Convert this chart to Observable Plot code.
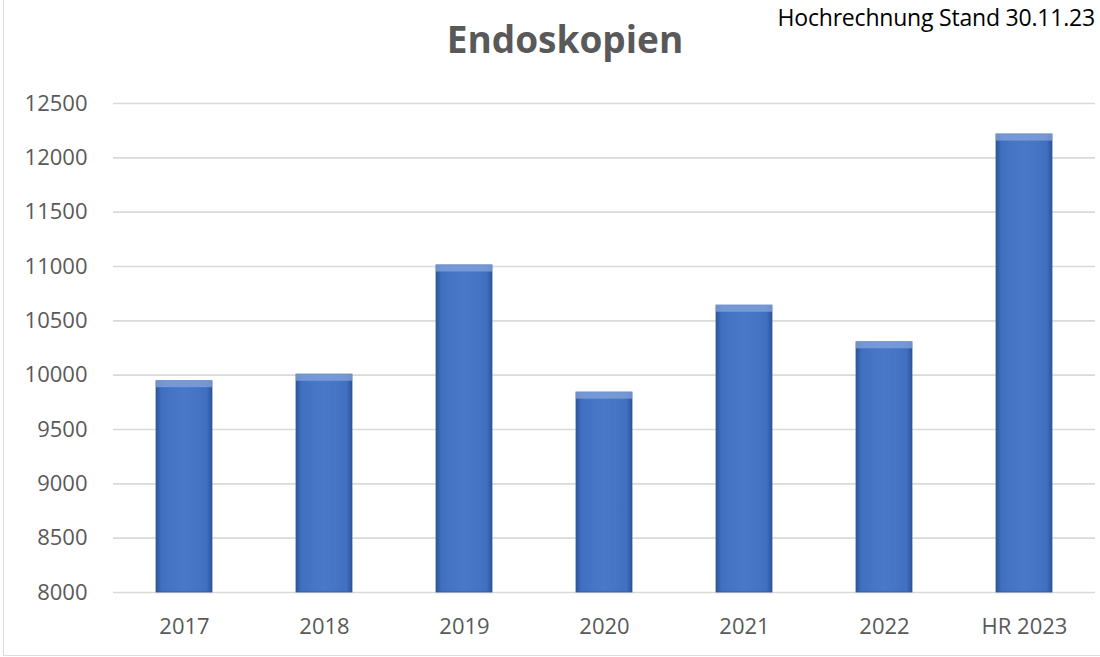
<!DOCTYPE html>
<html>
<head>
<meta charset="utf-8">
<script src="https://cdn.jsdelivr.net/npm/d3@7"></script>
<script src="https://cdn.jsdelivr.net/npm/@observablehq/plot@0.6"></script>
<style>
  html, body { margin: 0; padding: 0; background: #fff; }
  #wrap { position: relative; width: 1100px; height: 657px; overflow: hidden; background: #fff; }
  #frame { position: absolute; left: 3px; top: -2px; right: -2px; bottom: 1px; border: 1px solid #dcdcdc; pointer-events: none; }
  #title { position: absolute; left: 0; width: 1130px; top: 20px; text-align: center; font-family: "Open Sans", sans-serif; font-weight: 700; font-size: 37px; line-height: 1; color: #595959; }
  #sub { position: absolute; right: 5px; top: 6px; font-family: "Open Sans", sans-serif; font-size: 23px; line-height: 1; color: #000; white-space: nowrap; letter-spacing: -0.2px; }
  #chart { position: absolute; left: 0; top: 0; }
</style>
</head>
<body>
<div id="wrap">
  <div id="chart"></div>
  <div id="title">Endoskopien</div>
  <div id="sub">Hochrechnung Stand 30.11.23</div>
  <div id="frame"></div>
</div>
<script>
const categories = ["2017", "2018", "2019", "2020", "2021", "2022", "HR 2023"];
const values = [9945, 10005, 11010, 9840, 10640, 10303, 12215];
const yTicks = [8000, 8500, 9000, 9500, 10000, 10500, 11000, 11500, 12000, 12500];

const data = categories.map((c, i) => ({cat: c, value: values[i]}));

const chart = Plot.plot({
  width: 1100,
  height: 657,
  marginLeft: 113,
  marginRight: 5,
  marginTop: 103,
  marginBottom: 65,
  style: {fontFamily: "Open Sans, sans-serif", fontSize: "22px", color: "#595959", background: "transparent"},
  x: {domain: categories, paddingInner: 0.6, paddingOuter: 0.3, label: null},
  y: {domain: [yTicks[0], yTicks[yTicks.length - 1]], label: null, clamp: true},
  marks: [
    Plot.gridY(yTicks, {stroke: "#d9d9d9", strokeOpacity: 1, strokeWidth: 1.6}),
    Plot.barY(data, {x: "cat", y: "value", fill: "url(#barGrad)", stroke: "#2f5597", strokeWidth: 0.8}),
    Plot.axisY(yTicks, {tickSize: 0, tickPadding: 26, fill: "#595959", fontSize: 22, label: null, tickFormat: d => String(d)}),
    Plot.axisX({tickSize: 0, tickPadding: 26, fill: "#595959", fontSize: 22, label: null})
  ]
});

const ns = "http://www.w3.org/2000/svg";
const defs = document.createElementNS(ns, "defs");
defs.innerHTML = `
  <linearGradient id="barGrad" x1="0" y1="0" x2="1" y2="0">
    <stop offset="0" stop-color="#2c559e"/>
    <stop offset="0.1" stop-color="#4170c0"/>
    <stop offset="0.5" stop-color="#4a78c8"/>
    <stop offset="0.9" stop-color="#4170c0"/>
    <stop offset="1" stop-color="#2c559e"/>
  </linearGradient>
  <filter id="bevel" x="-20%" y="-5%" width="140%" height="110%">
    <feOffset in="SourceAlpha" dy="7" result="off"/>
    <feComposite in="SourceAlpha" in2="off" operator="out" result="band"/>
    <feFlood flood-color="#8fb0e6" flood-opacity="0.55"/>
    <feComposite in2="band" operator="in" result="hl"/>
    <feMerge><feMergeNode in="SourceGraphic"/><feMergeNode in="hl"/></feMerge>
  </filter>`;
chart.insertBefore(defs, chart.firstChild);
chart.querySelectorAll('g[aria-label="bar"] rect').forEach(r => r.setAttribute("filter", "url(#bevel)"));
document.getElementById("chart").appendChild(chart);
</script>
</body>
</html>
